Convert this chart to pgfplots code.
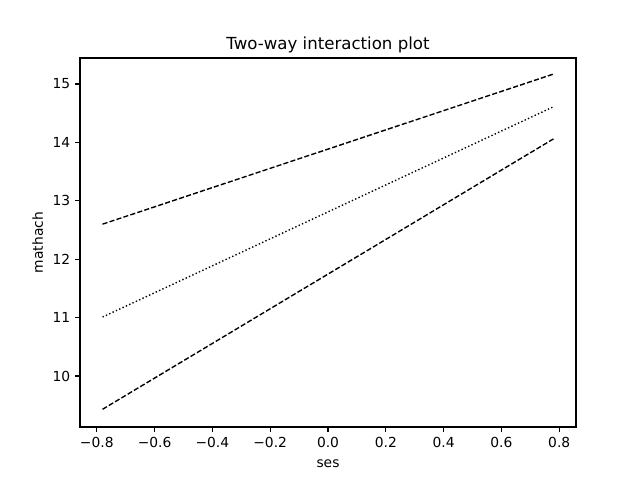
\documentclass[border=0pt]{standalone}
\usepackage{pgfplots}
\pgfplotsset{compat=1.18}
\usepackage{fontspec}
\setmainfont{DejaVu Sans}
\begin{document}
\begin{tikzpicture}
\begin{axis}[
  scale only axis,
  width=4.96in, height=3.69in,
  xmin=-0.858, xmax=0.858,
  ymin=9.127, ymax=15.445,
  xtick={-0.8,-0.6,-0.4,-0.2,0,0.2,0.4,0.6,0.8},
  xticklabels={−0.8,−0.6,−0.4,−0.2,0.0,0.2,0.4,0.6,0.8},
  ytick={10,11,12,13,14,15},
  /pgf/number format/assume math mode=true,
  tick align=outside,
  tick pos=left,
  major tick length=3.5pt,
  every tick/.style={black, line width=0.8pt},
  axis line style={line width=0.8pt},
  tick label style={font=\fontsize{10}{12}\selectfont},
  label style={font=\fontsize{10}{12}\selectfont},
  xlabel style={yshift=-2pt},
  title style={font=\fontsize{12}{14}\selectfont, yshift=-6pt},
  title={Two-way interaction plot},
  xlabel={ses},
  ylabel={mathach},
]
\addplot[black, line width=1pt, dash pattern=on 3.7pt off 1.6pt] coordinates {(-0.78,12.60) (0.78,15.17)};
\addplot[black, line width=1pt, dash pattern=on 1pt off 1.65pt] coordinates {(-0.78,11.01) (0.78,14.61)};
\addplot[black, line width=1pt, dash pattern=on 3.7pt off 1.6pt] coordinates {(-0.78,9.43) (0.78,14.06)};
\end{axis}
\path (current axis.south west) ++(-0.8in,-0.53in) rectangle ++(6.4in,4.8in);
\end{tikzpicture}
\end{document}
